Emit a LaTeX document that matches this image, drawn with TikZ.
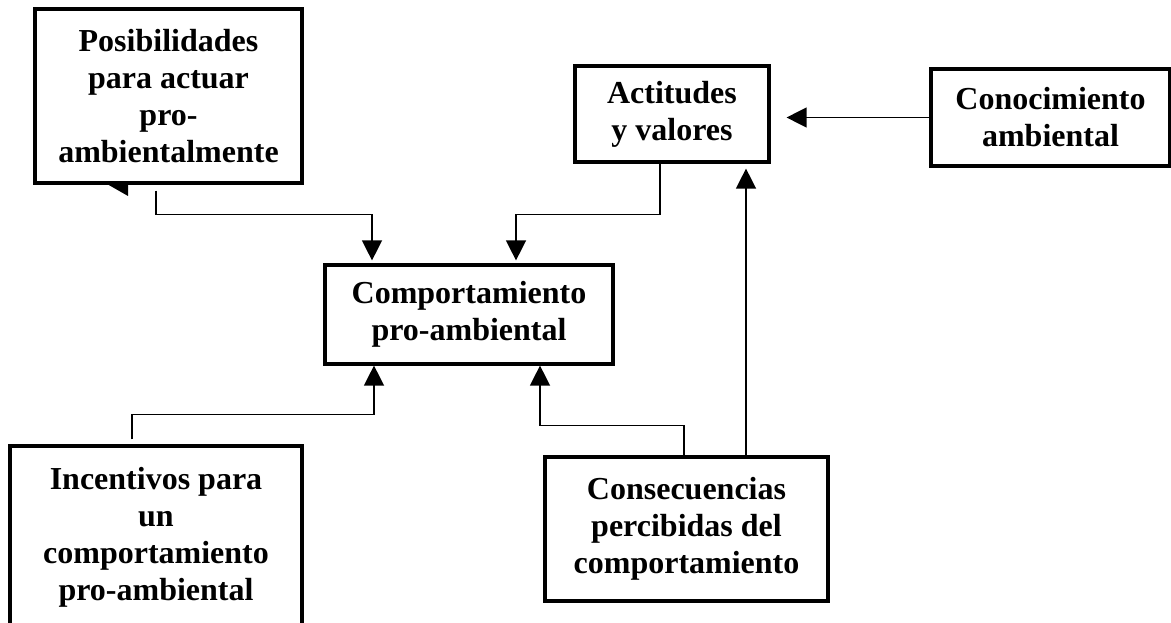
\documentclass[tikz,border=0pt]{standalone}
\usepackage{fontspec}
\setmainfont{Liberation Serif}
\usetikzlibrary{arrows.meta}

\tikzset{
  box/.style={rectangle,draw,line width=3.2pt,align=center,inner sep=0pt,
    font=\bfseries\fontsize{32}{37}\selectfont},
  arr/.style={line width=1.4pt,-{Triangle[width=20pt,length=20pt]}}
}

\begin{document}
\begin{tikzpicture}[x=1pt,y=-1pt]
    \clip (0,0) rectangle (1171,623);
    \node[box,minimum width=267pt,minimum height=174pt] (pos) at (168.5,96)
      {Posibilidades\\para actuar\\pro-\\ambientalmente};
    \node[box,minimum width=194pt,minimum height=96pt] (act) at (672,114)
      {Actitudes\\y valores};
    \node[box,minimum width=239pt,minimum height=97pt] (con) at (1050.5,117.5)
      {Conocimiento\\ambiental};
    \node[box,minimum width=288pt,minimum height=99pt] (comp) at (469,314.5)
      {Comportamiento\\pro-ambiental};
    \node[box,minimum width=292pt,minimum height=182pt] (inc) at (156,537)
      {Incentivos para\\un\\comportamiento\\pro-ambiental};
    \node[box,minimum width=283pt,minimum height=144pt] (cons) at (686.5,529)
      {Consecuencias\\percibidas del\\comportamiento};
	%% stray tip under the first box
	\fill (107,184) -- (128,184) -- (128,196) -- cycle;

	\draw[arr,shorten >=3pt] ([xshift=-12.5pt,yshift=-6pt]pos.south) -- ++(0,24) -| ([xshift=-97pt]comp.north);
	\draw[arr,shorten >=3pt] ([xshift=-12pt]act.south) -- ++(0,51) -| ([xshift=47pt]comp.north);
	\draw[arr,shorten >=16pt] (con.west) -- (con.west -| act.east);
	\draw[arr,shorten >=5pt] ([xshift=59.5pt]cons.north) -- ([xshift=59.5pt]cons.north |- act.south);

	\draw[arr] ([xshift=-2.5pt]cons.north) -- ++(0,-30) -| ([xshift=71pt]comp.south);
	\draw[arr] ([xshift=-24pt,yshift=5pt]inc.north) -- ++(0,-25) -| ([xshift=-95pt]comp.south);
  \end{tikzpicture}
\end{document}
